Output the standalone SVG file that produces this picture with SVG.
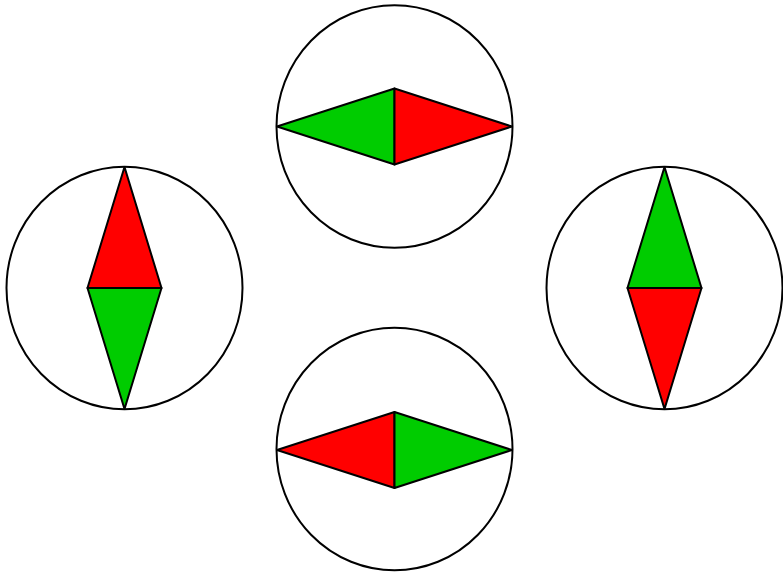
<svg xmlns="http://www.w3.org/2000/svg" width="783" height="574" viewBox="0 0 783 574">
<style>
.ring{fill:#ffffff;stroke:#000;stroke-width:2}
.r{fill:#ff0000;stroke:#000;stroke-width:2;stroke-linejoin:round}
.g{fill:#00cc00;stroke:#000;stroke-width:2;stroke-linejoin:round}
</style>
<rect width="783" height="574" fill="#ffffff"/>
<g id="top">
<ellipse class="ring" cx="394.5" cy="126.5" rx="118" ry="121.3"/>
<polygon class="g" points="277,126.5 394.5,88.5 394.5,164.5"/>
<polygon class="r" points="512,126.5 394.5,88.5 394.5,164.5"/>
</g>
<g id="left">
<ellipse class="ring" cx="124.5" cy="288" rx="118" ry="121.3"/>
<polygon class="r" points="124.5,167 87.5,288 161.5,288"/>
<polygon class="g" points="124.5,409 87.5,288 161.5,288"/>
</g>
<g id="right">
<ellipse class="ring" cx="664.5" cy="288" rx="118" ry="121.3"/>
<polygon class="g" points="664.5,167 627.5,288 701.5,288"/>
<polygon class="r" points="664.5,409 627.5,288 701.5,288"/>
</g>
<g id="bottom">
<ellipse class="ring" cx="394.5" cy="449" rx="118" ry="121.3"/>
<polygon class="r" points="277,450 394.5,412 394.5,488"/>
<polygon class="g" points="512,450 394.5,412 394.5,488"/>
</g>
<g id="connectors"></g>
</svg>
